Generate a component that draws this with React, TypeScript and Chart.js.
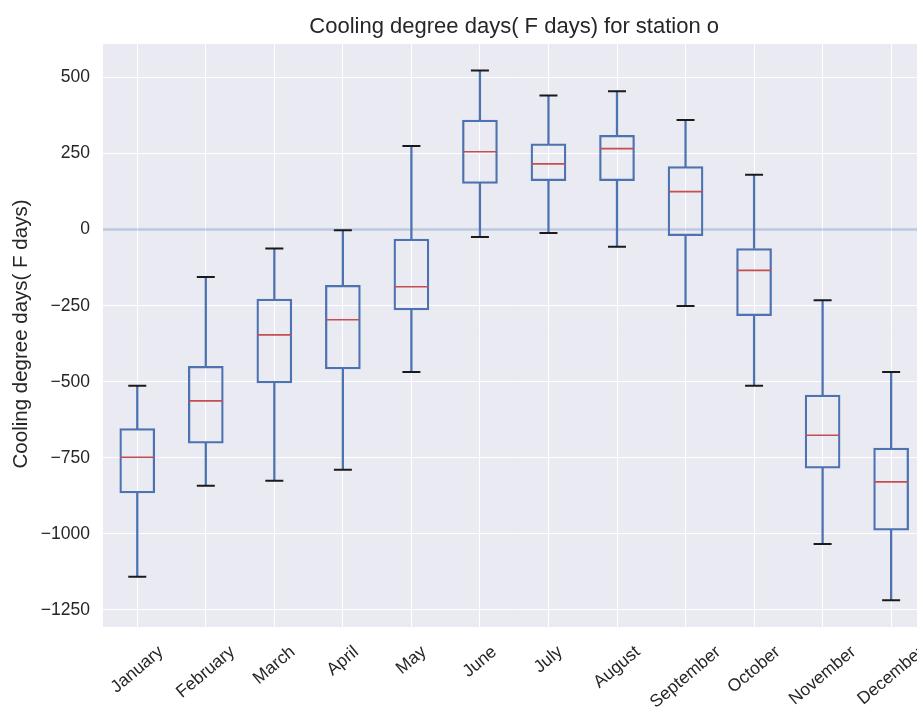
import React, { useEffect, useRef } from "react";
import { Chart, registerables } from "chart.js";

Chart.register(...registerables);

// Monthly cooling degree day distributions (F days)
const months = [
  "January", "February", "March", "April", "May", "June",
  "July", "August", "September", "October", "November", "December",
];
const whiskerLow = [-1141, -842, -825, -789, -468, -24, -11, -56, -251, -513, -1033, -1218];
const quartile1 = [-865, -702, -504, -458, -264, 152, 161, 161, -20, -283, -784, -988];
const medians = [-748, -563, -346, -296, -188, 256, 216, 266, 125, -134, -676, -829];
const quartile3 = [-654, -449, -228, -183, -31, 360, 282, 310, 207, -62, -544, -718];
const whiskerHigh = [-513, -156, -62, -2, 275, 523, 441, 455, 360, 180, -232, -468];
const yTicks = [-1250, -1000, -750, -500, -250, 0, 250, 500];

const titleText = "Cooling degree days( F days) for station o";
const yLabelText = "Cooling degree days( F days)";

const FONT = "'Liberation Sans', Arial, Helvetica, sans-serif";
const TEXT = "#262626";
const BLUE = "#4C72B0";
const RED = "#C44E52";
const BG = "#EAEAF2";

const decorPlugin = {
  id: "decor",
  beforeDraw(chart: any) {
    const { ctx, chartArea } = chart;
    ctx.save();
    ctx.fillStyle = "#ffffff";
    ctx.fillRect(0, 0, chart.width, chart.height);
    ctx.fillStyle = BG;
    ctx.fillRect(chartArea.left, chartArea.top, chartArea.right - chartArea.left, chartArea.bottom - chartArea.top);
    ctx.restore();
  },
  beforeDatasetsDraw(chart: any) {
    // reference line at zero
    const { ctx, chartArea } = chart;
    const y = chart.scales.y.getPixelForValue(0);
    ctx.save();
    ctx.strokeStyle = "rgba(76,114,176,0.28)";
    ctx.lineWidth = 2.5;
    ctx.beginPath();
    ctx.moveTo(chartArea.left, y);
    ctx.lineTo(chartArea.right, y);
    ctx.stroke();
    ctx.restore();
  },
  afterDraw(chart: any) {
    const { ctx, chartArea } = chart;
    const xScale = chart.scales.x;
    ctx.save();
    ctx.fillStyle = TEXT;

    // title
    ctx.font = `22px ${FONT}`;
    ctx.textAlign = "center";
    ctx.textBaseline = "alphabetic";
    ctx.fillText(titleText, (chartArea.left + chartArea.right) / 2, 33);

    // y axis label
    ctx.save();
    ctx.font = `20.5px ${FONT}`;
    ctx.translate(27, 334);
    ctx.rotate(-Math.PI / 2);
    ctx.textAlign = "center";
    ctx.textBaseline = "alphabetic";
    ctx.fillText(yLabelText, 0, 0);
    ctx.restore();

    // rotated month labels, centred under each tick
    const size = 17.5;
    const theta = (40 * Math.PI) / 180;
    ctx.font = `${size}px ${FONT}`;
    ctx.textAlign = "center";
    ctx.textBaseline = "middle";
    const top = chartArea.bottom + 15;
    months.forEach((m, i) => {
      const x = xScale.getPixelForTick(i);
      const w = ctx.measureText(m).width;
      const h = size * 1.15;
      const bh = w * Math.sin(theta) + h * Math.cos(theta);
      ctx.save();
      ctx.translate(x, top + bh / 2);
      ctx.rotate(-theta);
      ctx.fillText(m, 0, 0);
      ctx.restore();
    });
    ctx.restore();
  },
};

export default function App() {
  const canvasRef = useRef<HTMLCanvasElement | null>(null);

  useEffect(() => {
    if (!canvasRef.current) return;
    const chart = new Chart(canvasRef.current, {
      type: "bar",
      data: {
        labels: months,
        datasets: [
          {
            type: "line",
            label: "upper cap",
            data: whiskerHigh,
            showLine: false,
            pointStyle: "line",
            pointRadius: 9,
            pointHoverRadius: 9,
            pointBorderColor: "#1a1a1a",
            pointBorderWidth: 2,
            borderColor: "#1a1a1a",
            order: 0,
          } as any,
          {
            type: "line",
            label: "lower cap",
            data: whiskerLow,
            showLine: false,
            pointStyle: "line",
            pointRadius: 9,
            pointHoverRadius: 9,
            pointBorderColor: "#1a1a1a",
            pointBorderWidth: 2,
            borderColor: "#1a1a1a",
            order: 0,
          } as any,
          {
            type: "line",
            label: "median",
            data: medians,
            showLine: false,
            pointStyle: "line",
            pointRadius: 17,
            pointHoverRadius: 17,
            pointBorderColor: RED,
            pointBorderWidth: 1.6,
            borderColor: RED,
            order: 1,
          } as any,
          {
            label: "box",
            data: months.map((_, i) => [quartile1[i], quartile3[i]]),
            backgroundColor: "rgba(0,0,0,0)",
            borderColor: BLUE,
            borderWidth: 1.6,
            borderSkipped: false,
            barThickness: 35,
            grouped: false,
            order: 2,
          } as any,
          {
            label: "upper whisker",
            data: months.map((_, i) => [quartile3[i], whiskerHigh[i]]),
            backgroundColor: BLUE,
            borderWidth: 0,
            barThickness: 1.6,
            grouped: false,
            order: 3,
          } as any,
          {
            label: "lower whisker",
            data: months.map((_, i) => [whiskerLow[i], quartile1[i]]),
            backgroundColor: BLUE,
            borderWidth: 0,
            barThickness: 1.6,
            grouped: false,
            order: 3,
          } as any,
        ],
      },
      options: {
        responsive: false,
        animation: false,
        devicePixelRatio: 1,
        layout: { padding: { top: 44, left: 0, right: 0, bottom: 0 } },
        plugins: {
          legend: { display: false },
          title: { display: false },
          tooltip: { enabled: false },
        },
        scales: {
          x: {
            type: "category",
            offset: true,
            grid: { offset: false, color: "#ffffff", lineWidth: 1, drawTicks: false },
            border: { display: false },
            ticks: { display: false },
            afterFit: (scale: any) => {
              scale.height = 84;
            },
          },
          y: {
            type: "linear",
            min: -1306,
            max: 610,
            afterBuildTicks: (axis: any) => {
              axis.ticks = yTicks.map((v) => ({ value: v }));
            },
            grid: {
              color: (c: any) => (c.tick && c.tick.value === 0 ? "rgba(0,0,0,0)" : "#ffffff"),
              lineWidth: 1,
              drawTicks: false,
            },
            border: { display: false },
            ticks: {
              padding: 13,
              color: TEXT,
              font: { family: FONT, size: 17.5 },
              callback: (v: any) => String(v).replace("-", "\u2212"),
            },
            afterFit: (scale: any) => {
              scale.width = 103;
            },
          },
        },
      } as any,
      plugins: [decorPlugin],
    });
    return () => chart.destroy();
  }, []);

  return (
    <div
      style={{
        position: "fixed",
        left: 0,
        top: 0,
        width: 917,
        height: 711,
        overflow: "hidden",
        background: "#ffffff",
      }}
    >
      <canvas ref={canvasRef} width={944} height={711} style={{ display: "block" }} />
    </div>
  );
}
